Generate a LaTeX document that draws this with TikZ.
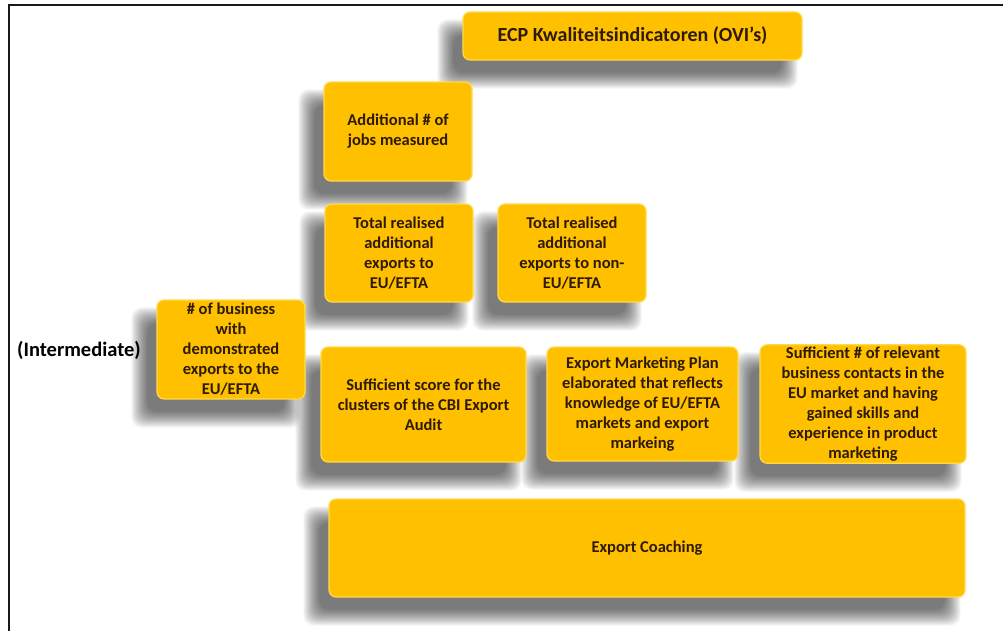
\documentclass[tikz,border=0pt]{standalone}
\usepackage{fontspec}
\setmainfont{Carlito}
\usetikzlibrary{calc}
\definecolor{boxfill}{HTML}{FFC000}
\definecolor{boxedge}{HTML}{FFD94A}
\definecolor{boxtext}{HTML}{2E1A05}
\pgfdeclarelayer{bg}
\pgfsetlayers{bg,main}
\tikzset{
  ybox/.style={draw=boxedge, line width=1.2pt, fill=boxfill, rounded corners=7pt,
    align=center, text=boxtext, font=\bfseries\fontsize{16.5}{20}\selectfont,
    inner sep=2pt},
  shadowlayer/.style={fill=black, opacity=0.04, rounded corners=10pt},
}
\begin{document}
\begin{tikzpicture}[x=1pt,y=-1pt]
\useasboundingbox (0,0) rectangle (1003,630);
\draw[line width=2.6pt, black!90] (9,632) -- (9,5) -- (1005,5);

\node[ybox, minimum width=339pt, minimum height=48pt, font=\bfseries\fontsize{20}{22}\selectfont] (title) at (632.5,36) {ECP Kwaliteitsindicatoren (OVI’s)};
\node[ybox, minimum width=148pt, minimum height=99pt] (jobs) at (398,131.5) {Additional \# of\\jobs measured};
\node[ybox, minimum width=148pt, minimum height=98pt] (eu) at (399,253) {Total realised\\additional\\exports to\\EU/EFTA};
\node[ybox, minimum width=148pt, minimum height=98pt] (noneu) at (572,253) {Total realised\\additional\\exports to non-\\EU/EFTA};
\node[ybox, minimum width=148pt, minimum height=99pt] (biz) at (231,349.5) {\# of business\\with\\demonstrated\\exports to the\\EU/EFTA};
\node[ybox, minimum width=205pt, minimum height=115pt] (score) at (423.5,404.5) {Sufficient score for the\\clusters of the CBI Export\\Audit};
\node[ybox, minimum width=191pt, minimum height=114pt] (plan) at (642.5,404) {Export Marketing Plan\\elaborated that reflects\\knowledge of EU/EFTA\\markets and export\\markeing};
\node[ybox, minimum width=206pt, minimum height=114pt] (contacts) at (863,404) {Sufficient \# of relevant\\business contacts in the\\EU market and having\\gained skills and\\experience in product\\marketing};
\node[ybox, minimum width=636pt, minimum height=98pt] (coaching) at (647,548) {Export Coaching};
\node[text=black, font=\bfseries\fontsize{20.5}{22}\selectfont] (inter) at (79,350) {(Intermediate)};

\begin{pgfonlayer}{bg}
\fill[white] (0,0) rectangle (1003,630);
\foreach \n in {title,jobs,eu,noneu,biz,score,plan,contacts,coaching}{
  \foreach \e in {10,9,...,-6}{
    \fill[shadowlayer] ($(\n.north west)+(-15-\e,18-\e)$) rectangle ($(\n.south east)+(-15+\e,18+\e)$);
  }
}
\end{pgfonlayer}
\end{tikzpicture}
\end{document}
